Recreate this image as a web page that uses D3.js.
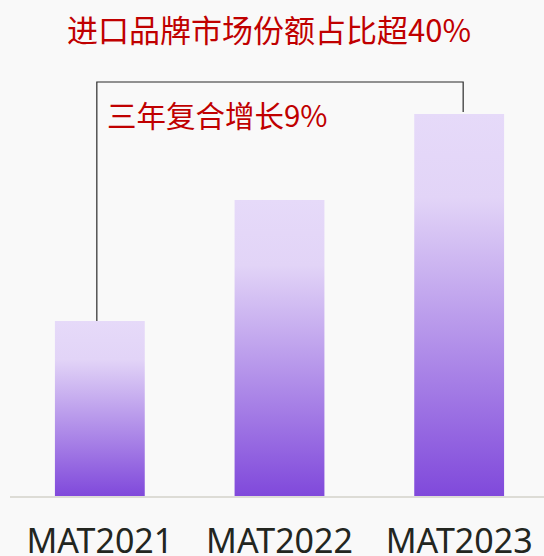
<!DOCTYPE html>
<html>
<head>
<meta charset="utf-8">
<script src="https://cdn.jsdelivr.net/npm/d3@7"></script>
<style>
  body { margin: 0; background: #f9f9f9; }
  svg { display: block; font-family: "Noto Sans CJK SC", "Noto Sans", sans-serif; }
</style>
</head>
<body>
<svg id="chart" width="544" height="556"></svg>
<script>
const categories = ['MAT2021', 'MAT2022', 'MAT2023'];
const values = [175, 296, 382]; // relative market size
const title = '进口品牌市场份额占比超40%';
const growthLabel = '三年复合增长9%';

const svg = d3.select('#chart');
const width = +svg.attr('width');

const baseY = 496;

const x = d3.scaleBand()
    .domain(categories)
    .range([10, 549])
    .paddingInner(0.5)
    .paddingOuter(0.25);

const y = d3.scaleLinear()
    .domain([0, 382])
    .range([baseY, 114]);

// gradient for the bars, light on top and purple at the bottom
const grad = svg.append('defs')
    .append('linearGradient')
    .attr('id', 'barGrad')
    .attr('x1', 0).attr('y1', 0)
    .attr('x2', 0).attr('y2', 1);
grad.append('stop').attr('offset', '0%').attr('stop-color', '#e6daf9');
grad.append('stop').attr('offset', '22%').attr('stop-color', '#e2d4f7');
grad.append('stop').attr('offset', '100%').attr('stop-color', '#8049db');

svg.selectAll('rect.bar')
    .data(values)
    .enter()
    .append('rect')
    .attr('class', 'bar')
    .attr('x', (d, i) => x(categories[i]))
    .attr('y', d => y(d))
    .attr('width', x.bandwidth())
    .attr('height', d => baseY - y(d))
    .attr('fill', 'url(#barGrad)');

// baseline
svg.append('line')
    .attr('x1', 10).attr('x2', width)
    .attr('y1', baseY + 1).attr('y2', baseY + 1)
    .attr('stroke', '#dddcd6')
    .attr('stroke-width', 2);

// category labels, sitting right at the bottom edge like the reference
svg.selectAll('text.cat')
    .data(categories)
    .enter()
    .append('text')
    .attr('class', 'cat')
    .attr('x', d => x(d) + x.bandwidth() / 2)
    .attr('y', 553)
    .attr('text-anchor', 'middle')
    .attr('fill', '#23261f')
    .attr('font-family', '"Noto Sans", sans-serif')
    .attr('font-size', 34)
    .text(d => d);

// bracket from first to last bar
const topY = 82;
const x0 = x(categories[0]) + x.bandwidth() / 2 - 3;
const x2 = x(categories[2]) + x.bandwidth() / 2 + 4;
svg.append('path')
    .attr('d', `M${x0},${y(values[0])}V${topY}H${x2}V${y(values[2]) - 2}`)
    .attr('fill', 'none')
    .attr('stroke', '#2b2b2b')
    .attr('stroke-width', 1.2);

svg.append('text')
    .attr('x', 107)
    .attr('y', 127)
    .attr('fill', '#c00000')
    .attr('font-size', 29.5)
    .text(growthLabel);

svg.append('text')
    .attr('x', 269)
    .attr('y', 42)
    .attr('text-anchor', 'middle')
    .attr('fill', '#c00000')
    .attr('font-size', 31)
    .text(title);
</script>
</body>
</html>
